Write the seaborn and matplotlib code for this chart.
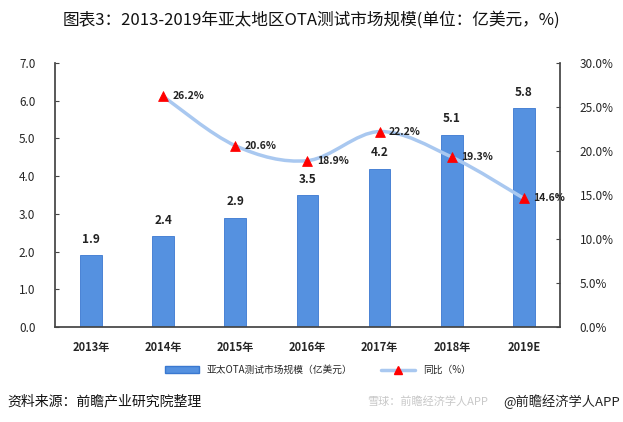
import numpy as np
import pandas as pd
import matplotlib
matplotlib.use('Agg')
import matplotlib.pyplot as plt
import seaborn as sns
from matplotlib.path import Path
from matplotlib.patches import PathPatch
from matplotlib.lines import Line2D
from matplotlib.patches import Patch

# data
years = ['2013年', '2014年', '2015年', '2016年', '2017年', '2018年', '2019E']
market_size = [1.9, 2.4, 2.9, 3.5, 4.2, 5.1, 5.8]
growth_years = ['2014年', '2015年', '2016年', '2017年', '2018年', '2019E']
growth_pct = [26.2, 20.6, 18.9, 22.2, 19.3, 14.6]

title = '图表3：2013-2019年亚太地区OTA测试市场规模(单位：亿美元，%)'
bar_label = '亚太OTA测试市场规模（亿美元）'
line_label = '同比（%）'
source = '资料来源：前瞻产业研究院整理'

sns.set_theme(style='white')
plt.rcParams['font.family'] = ['Noto Sans CJK SC', 'DejaVu Sans']

bar_color = '#5591E0'
line_color = '#A9C8F0'

df_bar = pd.DataFrame({'year': years, 'size': market_size})
df_line = pd.DataFrame({'year': growth_years, 'pct': growth_pct})

fig = plt.figure(figsize=(6.23, 4.22), dpi=100)
ax = fig.add_axes([0.088, 0.225, 0.811, 0.626])

sns.barplot(data=df_bar, x='year', y='size', color=bar_color, width=0.3,
            edgecolor='#3A78D0', linewidth=0.6, saturation=1, ax=ax)
for i, v in enumerate(market_size):
    ax.text(i, v + 0.25, f'{v:.1f}', ha='center', va='bottom', fontsize=8.5,
            fontweight='bold', color='#222222')

ax.set_ylim(0, 7)
ax.set_yticks(np.arange(0, 7.5, 1.0))
ax.set_yticklabels([f'{t:.1f}' for t in np.arange(0, 7.5, 1.0)], fontsize=8.5)
ax.set_xlabel('')
ax.set_ylabel('')
ax.set_xlim(-0.5, len(years) - 0.5)
ax.tick_params(axis='x', length=0, labelsize=8, pad=10)
for lbl in ax.get_xticklabels():
    lbl.set_fontweight('bold')
ax.tick_params(axis='y', direction='in', length=3, width=0.8, color='#444444', pad=14)
for s in ['top', 'right']:
    ax.spines[s].set_visible(False)
ax.spines['left'].set_color('#444444')
ax.spines['bottom'].set_color('#444444')

ax2 = ax.twinx()
ax2.set_ylim(0, 30)
ax2.set_yticks(np.arange(0, 31, 5))
ax2.set_yticklabels([f'{t:.1f}%' for t in np.arange(0, 31, 5)], fontsize=8.5)
ax2.tick_params(axis='y', direction='in', length=3, width=0.8, color='#444444', pad=14)
for s in ['top', 'left', 'bottom']:
    ax2.spines[s].set_visible(False)
ax2.spines['right'].set_color('#444444')

# smooth line through the growth points (Catmull-Rom as cubic Bezier)
xs = np.array([years.index(y) for y in growth_years], dtype=float)
ys = np.array(growth_pct, dtype=float)
verts = [(xs[0], ys[0])]
codes = [Path.MOVETO]
for i in range(len(xs) - 1):
    p0 = np.array([xs[max(i - 1, 0)], ys[max(i - 1, 0)]])
    p1 = np.array([xs[i], ys[i]])
    p2 = np.array([xs[i + 1], ys[i + 1]])
    p3 = np.array([xs[min(i + 2, len(xs) - 1)], ys[min(i + 2, len(xs) - 1)]])
    c1 = p1 + (p2 - p0) / 6
    c2 = p2 - (p3 - p1) / 6
    verts += [tuple(c1), tuple(c2), tuple(p2)]
    codes += [Path.CURVE4] * 3
ax2.add_patch(PathPatch(Path(verts, codes), facecolor='none',
                        edgecolor=line_color, linewidth=2.5, zorder=3))

sns.scatterplot(x=xs, y=ys, marker='^', color='#FF0000', s=50,
                edgecolor='#FF0000', zorder=4, ax=ax2)
for x, y in zip(xs, ys):
    ax2.text(x + 0.13, y, f'{y:.1f}%', ha='left', va='center', fontsize=7.5,
             fontweight='bold', color='#222222', zorder=5)

fig.text(0.5, 0.952, title, ha='center', va='center', fontsize=12, color='#111111')

handles = [Patch(facecolor=bar_color, edgecolor='#3A78D0'),
           Line2D([0], [0], color=line_color, linewidth=2.5, marker='^',
                  markerfacecolor='#FF0000', markeredgecolor='#FF0000', markersize=6)]
fig.legend(handles, [bar_label, line_label], loc='center', bbox_to_anchor=(0.51, 0.123),
           ncol=2, frameon=False, fontsize=7, handlelength=3.5, columnspacing=3)

fig.text(0.012, 0.048, source, ha='left', va='center', fontsize=10, color='#111111')
fig.text(0.59, 0.048, '雪球：前瞻经济学人APP', ha='left', va='center', fontsize=8,
         color='#C8C8C8')
fig.text(0.995, 0.048, '@前瞻经济学人APP', ha='right', va='center', fontsize=9.5,
         color='#222222')

fig.savefig('out.png', dpi=100)
